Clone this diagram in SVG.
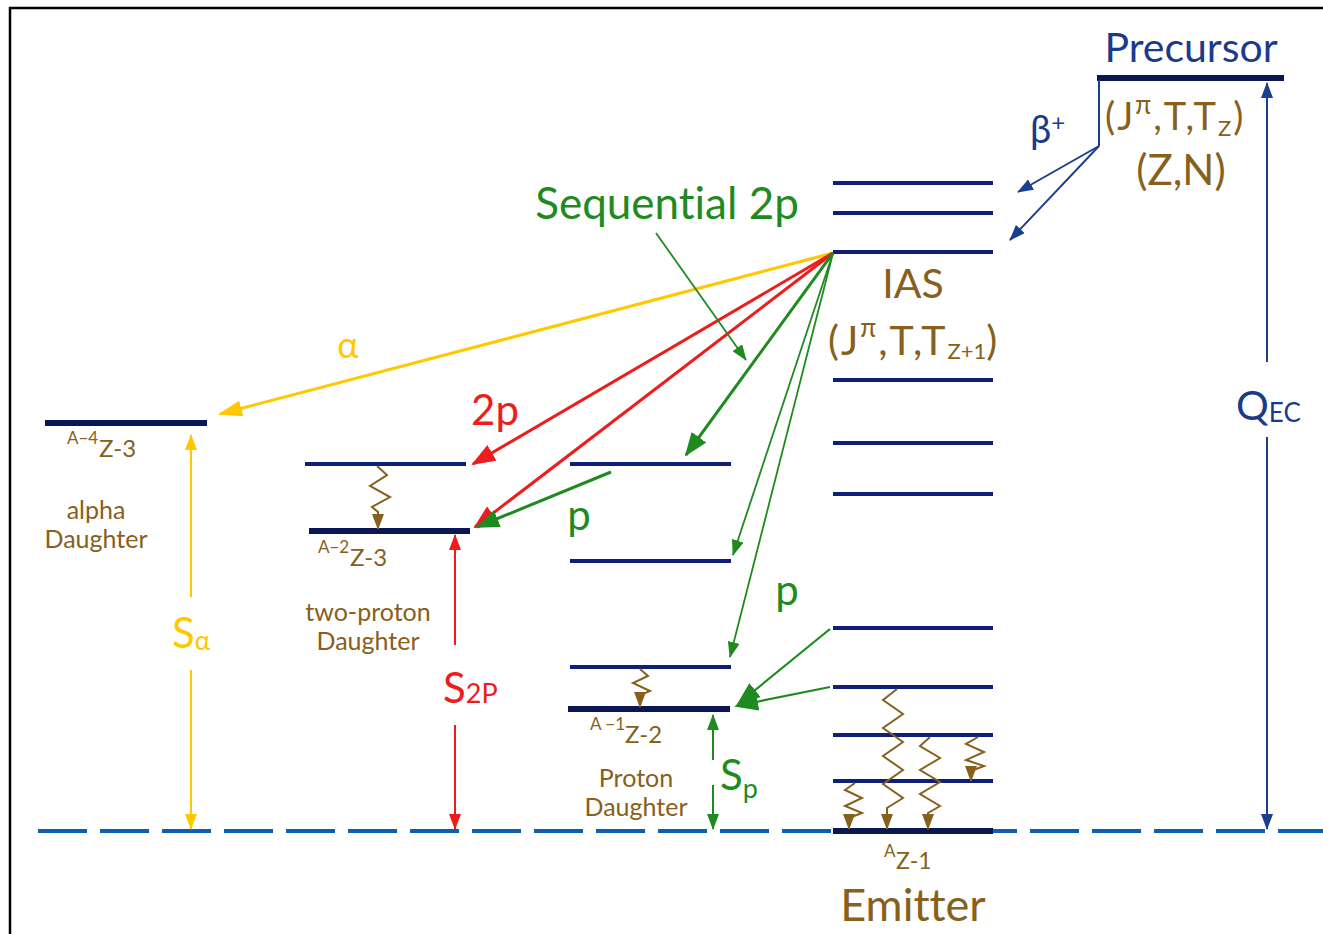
<svg xmlns="http://www.w3.org/2000/svg" width="1323" height="934" viewBox="0 0 1323 934">
<style>
text{font-family:Lato,"Open Sans","DejaVu Sans",sans-serif;font-variant-ligatures:none}
.lvl{stroke:#0d1f7a;stroke-width:4;fill:none}
.lvlb{stroke:#0a1655;stroke-width:6;fill:none}
.br{fill:#86601c}
.nv{fill:#1a3a8c}
.gam{stroke:#86601c;stroke-width:2;fill:none;marker-end:url(#mBr)}
</style>
<defs>
<marker id="mY" markerUnits="userSpaceOnUse" markerWidth="24" markerHeight="16" refX="22" refY="8" orient="auto"><path d="M0,0 L24,8 L0,16 z" fill="#ffc800"/></marker>
<marker id="mR" markerUnits="userSpaceOnUse" markerWidth="24" markerHeight="18" refX="22" refY="9" orient="auto"><path d="M0,0 L24,9 L0,18 z" fill="#ee1c1c"/></marker>
<marker id="mG" markerUnits="userSpaceOnUse" markerWidth="24" markerHeight="18" refX="22" refY="9" orient="auto"><path d="M0,0 L24,9 L0,18 z" fill="#1f8a1f"/></marker>
<marker id="mGs" markerUnits="userSpaceOnUse" markerWidth="16" markerHeight="12" refX="15" refY="6" orient="auto"><path d="M0,0 L16,6 L0,12 z" fill="#1f8a1f"/></marker>
<marker id="mN" markerUnits="userSpaceOnUse" markerWidth="16" markerHeight="12" refX="15" refY="6" orient="auto-start-reverse"><path d="M0,0 L16,6 L0,12 z" fill="#1a3f8f"/></marker>
<marker id="mYs" markerUnits="userSpaceOnUse" markerWidth="16" markerHeight="12" refX="15" refY="6" orient="auto-start-reverse"><path d="M0,0 L16,6 L0,12 z" fill="#ffc800"/></marker>
<marker id="mRs" markerUnits="userSpaceOnUse" markerWidth="16" markerHeight="12" refX="15" refY="6" orient="auto-start-reverse"><path d="M0,0 L16,6 L0,12 z" fill="#ee1c1c"/></marker>
<marker id="mGv" markerUnits="userSpaceOnUse" markerWidth="16" markerHeight="12" refX="15" refY="6" orient="auto-start-reverse"><path d="M0,0 L16,6 L0,12 z" fill="#1f8a1f"/></marker>
<marker id="mBr" markerUnits="userSpaceOnUse" markerWidth="16" markerHeight="12" refX="15" refY="6" orient="auto"><path d="M0,0 L16,6 L0,12 z" fill="#86601c"/></marker>
</defs>
<rect width="1323" height="934" fill="#ffffff"/>
<rect x="10" y="8" width="1330" height="950" fill="none" stroke="#000" stroke-width="2.5"/>

<line x1="38" y1="831" x2="1323" y2="831" stroke="#0d5fb0" stroke-width="4" stroke-dasharray="49 13"/>

<g id="precursor">
<line class="lvlb" x1="1097" y1="78" x2="1284" y2="78"/>
<text x="1191" y="62" font-size="41" text-anchor="middle" class="nv">Precursor</text>
<text x="1105" y="130" font-size="38" class="br" letter-spacing="2">(J<tspan font-size="26" dy="-16">π</tspan><tspan dy="16">,T,T</tspan><tspan font-size="22" dy="6">Z</tspan><tspan dy="-6">)</tspan></text>
<text x="1181" y="185" font-size="42" text-anchor="middle" class="br">(Z,N)</text>
</g>

<g id="emitter">
<line class="lvl" x1="833" y1="183" x2="993" y2="183"/>
<line class="lvl" x1="833" y1="213" x2="993" y2="213"/>
<line class="lvl" x1="833" y1="252" x2="993" y2="252"/>
<line class="lvl" x1="833" y1="380" x2="993" y2="380"/>
<line class="lvl" x1="833" y1="443" x2="993" y2="443"/>
<line class="lvl" x1="833" y1="494" x2="993" y2="494"/>
<line class="lvl" x1="833" y1="628" x2="993" y2="628"/>
<line class="lvl" x1="833" y1="687" x2="993" y2="687"/>
<line class="lvl" x1="833" y1="735" x2="993" y2="735"/>
<line class="lvl" x1="833" y1="781" x2="993" y2="781"/>
<line class="lvlb" x1="833" y1="831" x2="993" y2="831"/>
<text x="913" y="298" font-size="41" text-anchor="middle" class="br">IAS</text>
<text x="828" y="355" font-size="41" class="br" letter-spacing="2">(J<tspan font-size="26" dy="-18">π</tspan><tspan dy="18">,T,T</tspan><tspan font-size="22" dy="4" letter-spacing="0">Z+1</tspan><tspan dy="-4">)</tspan></text>
<text x="884" y="857" font-size="17" class="br">A</text>
<text x="896" y="869" font-size="23" class="br">Z-1</text>
<text x="913" y="921" font-size="45" text-anchor="middle" class="br">Emitter</text>
<polyline class="gam" points="897,689 883,700 903,714 883,728 903,742 883,756 903,770 883,784 903,798 887,808 887,829"/>
<polyline class="gam" points="930,737 920,746 940,758 920,770 940,782 920,794 940,806 928,813 928,829"/>
<polyline class="gam" points="978,737 966,744 984,752 966,760 984,766 971,771 971,781"/>
<polyline class="gam" points="855,783 845,790 862,798 845,806 862,813 849,818 849,829"/>
</g>

<g id="alpha-daughter">
<line class="lvlb" x1="45" y1="423" x2="207" y2="423"/>
<text x="67" y="444" font-size="17" class="br">A−4</text>
<text x="99" y="457" font-size="24" class="br">Z-3</text>
<text x="96" y="519" font-size="25" text-anchor="middle" class="br">alpha</text>
<text x="96" y="548" font-size="25" text-anchor="middle" class="br">Daughter</text>
</g>

<g id="two-proton-daughter">
<line class="lvl" x1="305" y1="464" x2="466" y2="464"/>
<line class="lvlb" x1="309" y1="531" x2="470" y2="531"/>
<polyline class="gam" points="377,466 387,475 370,486 390,497 372,507 378,512 378,529"/>
<text x="318" y="553" font-size="17" class="br">A−2</text>
<text x="350" y="566" font-size="24" class="br">Z-3</text>
<text x="368" y="621" font-size="25" text-anchor="middle" class="br">two-proton</text>
<text x="368" y="650" font-size="25" text-anchor="middle" class="br">Daughter</text>
</g>

<g id="proton-daughter">
<line class="lvl" x1="570" y1="464" x2="731" y2="464"/>
<line class="lvl" x1="570" y1="561" x2="731" y2="561"/>
<line class="lvl" x1="570" y1="667" x2="731" y2="667"/>
<line class="lvlb" x1="568" y1="709" x2="730" y2="709"/>
<polyline class="gam" points="640,669 648,676 633,683 650,691 638,696 640,697 640,707"/>
<text x="590" y="730" font-size="17" class="br">A −1</text>
<text x="625" y="743" font-size="24" class="br">Z-2</text>
<text x="636" y="787" font-size="25" text-anchor="middle" class="br">Proton</text>
<text x="636" y="816" font-size="25" text-anchor="middle" class="br">Daughter</text>
</g>

<g id="connectors">
<line x1="833" y1="253" x2="220" y2="414" stroke="#ffc800" stroke-width="3" marker-end="url(#mY)"/>
<line x1="833" y1="253" x2="473" y2="464" stroke="#ee1c1c" stroke-width="3" marker-end="url(#mR)"/>
<line x1="833" y1="253" x2="475" y2="527" stroke="#ee1c1c" stroke-width="3" marker-end="url(#mR)"/>
<line x1="833" y1="253" x2="686" y2="455" stroke="#1f8a1f" stroke-width="3" marker-end="url(#mG)"/>
<line x1="833" y1="253" x2="733" y2="555" stroke="#1f8a1f" stroke-width="1.8" marker-end="url(#mGs)"/>
<line x1="833" y1="253" x2="730" y2="657" stroke="#1f8a1f" stroke-width="1.8" marker-end="url(#mGs)"/>
<line x1="656" y1="233" x2="746" y2="360" stroke="#1f8a1f" stroke-width="1.8" marker-end="url(#mGs)"/>
<line x1="611" y1="472" x2="477" y2="527" stroke="#1f8a1f" stroke-width="3" marker-end="url(#mG)"/>
<line x1="830" y1="629" x2="738" y2="704" stroke="#1f8a1f" stroke-width="2.2" marker-end="url(#mG)"/>
<line x1="830" y1="687" x2="736" y2="706" stroke="#1f8a1f" stroke-width="2.2" marker-end="url(#mG)"/>
<polyline points="1099,80 1099,146" stroke="#1a3f8f" stroke-width="2" fill="none"/>
<line x1="1099" y1="146" x2="1018" y2="192" stroke="#1a3f8f" stroke-width="2" marker-end="url(#mN)"/>
<line x1="1099" y1="146" x2="1010" y2="240" stroke="#1a3f8f" stroke-width="2" marker-end="url(#mN)"/>
<line x1="1267" y1="83" x2="1267" y2="362" stroke="#1a3f8f" stroke-width="2" marker-start="url(#mN)"/>
<line x1="1267" y1="437" x2="1267" y2="829" stroke="#1a3f8f" stroke-width="2" marker-end="url(#mN)"/>
<line x1="191" y1="435" x2="191" y2="597" stroke="#ffc800" stroke-width="2" marker-start="url(#mYs)"/>
<line x1="191" y1="670" x2="191" y2="829" stroke="#ffc800" stroke-width="2" marker-end="url(#mYs)"/>
<line x1="455" y1="535" x2="455" y2="645" stroke="#ee1c1c" stroke-width="2" marker-start="url(#mRs)"/>
<line x1="455" y1="725" x2="455" y2="829" stroke="#ee1c1c" stroke-width="2" marker-end="url(#mRs)"/>
<line x1="713" y1="715" x2="713" y2="760" stroke="#1f8a1f" stroke-width="2" marker-start="url(#mGv)"/>
<line x1="713" y1="785" x2="713" y2="829" stroke="#1f8a1f" stroke-width="2" marker-end="url(#mGv)"/>
</g>

<g id="labels">
<text x="667" y="219" font-size="44" text-anchor="middle" fill="#1f8a1f">Sequential 2p</text>
<text x="348" y="358" font-size="36" text-anchor="middle" fill="#ffc800">α</text>
<text x="495" y="425" font-size="42" text-anchor="middle" fill="#ee1c1c">2p</text>
<text x="579" y="530" font-size="42" text-anchor="middle" fill="#1f8a1f">p</text>
<text x="787" y="605" font-size="42" text-anchor="middle" fill="#1f8a1f">p</text>
<text x="1030" y="143" font-size="38" class="nv">β<tspan font-size="24" dy="-12">+</tspan></text>
<text x="1236" y="420" font-size="41" class="nv">Q<tspan font-size="26" dy="2">EC</tspan></text>
<text x="172" y="648" font-size="42" fill="#ffc800">S<tspan font-size="26" dy="2">α</tspan></text>
<text x="443" y="703" font-size="42" fill="#ee1c1c">S<tspan font-size="27" dy="0">2P</tspan></text>
<text x="720" y="790" font-size="42" fill="#1f8a1f">S<tspan font-size="27" dy="8">p</tspan></text>
</g>
</svg>
